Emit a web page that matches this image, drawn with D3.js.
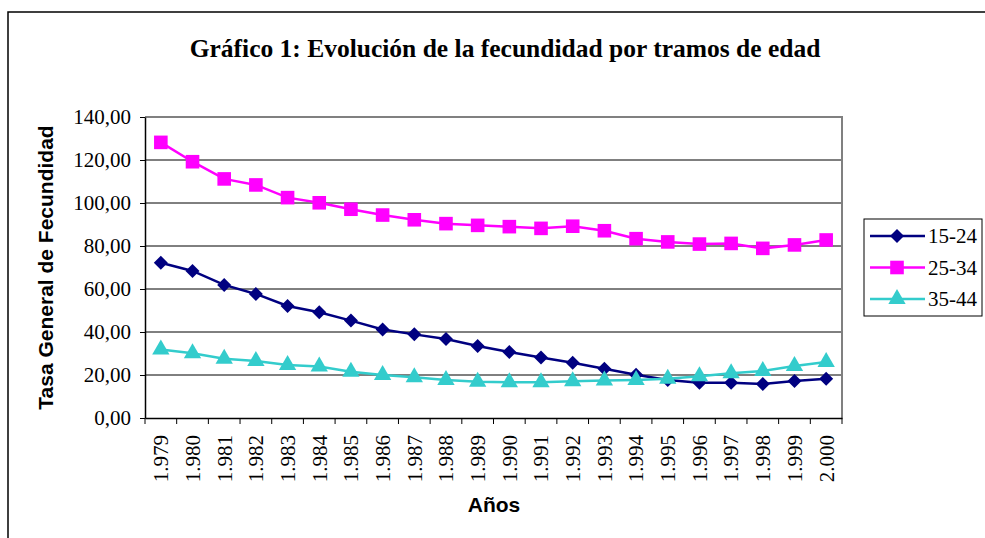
<!DOCTYPE html>
<html>
<head>
<meta charset="utf-8">
<script src="https://cdn.jsdelivr.net/npm/d3@7"></script>
<style>
  body { margin: 0; background: #fff; }
  svg { display: block; }
</style>
</head>
<body>
<svg id="chart" width="985" height="538"></svg>
<script>
const years = ["1.979", "1.980", "1.981", "1.982", "1.983", "1.984", "1.985", "1.986", "1.987", "1.988", "1.989",
  "1.990", "1.991", "1.992", "1.993", "1.994", "1.995", "1.996", "1.997", "1.998", "1.999", "2.000"];
const tramo1524 = [72.2, 68.4, 61.9, 57.7, 52.1, 49.2, 45.3, 41.2, 38.9, 36.7, 33.5,
  30.7, 28.1, 25.7, 22.9, 20.1, 17.7, 16.4, 16.4, 15.8, 17.2, 18.3];
const tramo2534 = [128.2, 119.2, 111.2, 108.4, 102.5, 100.1, 97.1, 94.4, 92.2, 90.4, 89.6,
  89.0, 88.2, 89.2, 87.1, 83.4, 81.9, 80.9, 81.2, 78.9, 80.5, 82.8];
const tramo3544 = [31.9, 30.1, 27.6, 26.5, 24.7, 23.9, 21.5, 20.0, 18.9, 17.7, 16.9,
  16.6, 16.6, 17.1, 17.4, 17.7, 18.3, 19.4, 20.8, 21.9, 24.2, 26.0];
const yTicks = [0, 20, 40, 60, 80, 100, 120, 140];

// rombo regular (tipo Excel), el de d3 es más estrecho
const squareDiamond = {
  draw(ctx, size) {
    const r = Math.sqrt(size / 2);
    ctx.moveTo(0, -r);
    ctx.lineTo(r, 0);
    ctx.lineTo(0, r);
    ctx.lineTo(-r, 0);
    ctx.closePath();
  }
};

const series = [
  { name: "15-24", values: tramo1524, color: "#000080", symbol: squareDiamond, size: 98 },
  { name: "25-34", values: tramo2534, color: "#FF00FF", symbol: d3.symbolSquare, size: 185 },
  { name: "35-44", values: tramo3544, color: "#33CCCC", symbol: d3.symbolTriangle, size: 130 }
];

const serif = "'Liberation Serif', 'Times New Roman', serif";
const sans = "'Liberation Sans', Arial, sans-serif";

const svg = d3.select("#chart");
const plot = { left: 145, top: 117, right: 842, bottom: 418 };

// marco exterior
svg.append("rect")
  .attr("x", 8).attr("y", 12).attr("width", 990).attr("height", 540)
  .attr("fill", "none").attr("stroke", "#000").attr("stroke-width", 1.5);

svg.append("text")
  .attr("x", 505).attr("y", 57)
  .attr("text-anchor", "middle")
  .style("font-family", serif)
  .style("font-weight", "bold")
  .style("font-size", "25.5px")
  .text("Gráfico 1: Evolución de la fecundidad por tramos de edad");

const x = d3.scaleBand().domain(years).range([plot.left, plot.right]);
const y = d3.scaleLinear().domain([0, 140]).range([plot.bottom, plot.top]);

// grid
svg.append("g").selectAll("line")
  .data(yTicks.filter(d => d > 0 && d < 140))
  .enter().append("line")
  .attr("x1", plot.left).attr("x2", plot.right)
  .attr("y1", d => y(d)).attr("y2", d => y(d))
  .attr("stroke", "#000").attr("stroke-width", 1);

// borde gris del área de trazado
svg.append("path")
  .attr("d", `M${plot.left},${plot.top}H${plot.right}V${plot.bottom}`)
  .attr("fill", "none").attr("stroke", "#808080").attr("stroke-width", 2);

// eje Y
const yAxis = svg.append("g")
  .attr("transform", `translate(${plot.left},0)`)
  .call(d3.axisLeft(y).tickValues(yTicks).tickSize(5).tickSizeOuter(0)
    .tickFormat(d => d3.format(".2f")(d).replace(".", ",")));
yAxis.select(".domain").attr("stroke", "#000").attr("stroke-width", 1.5);
yAxis.selectAll(".tick line").attr("stroke", "#000");
yAxis.selectAll(".tick text")
  .attr("x", -14)
  .style("font-family", serif)
  .style("font-size", "21px")
  .attr("fill", "#000");

// eje X
const xAxis = svg.append("g")
  .attr("transform", `translate(0,${plot.bottom})`)
  .call(d3.axisBottom(x).tickSize(0).tickSizeOuter(0));
xAxis.select(".domain").attr("stroke", "#000").attr("stroke-width", 1.5);
xAxis.selectAll(".tick text")
  .attr("transform", "rotate(-90)")
  .attr("x", -17).attr("y", 0).attr("dy", "0.35em")
  .attr("text-anchor", "end")
  .style("font-family", serif)
  .style("font-size", "21px")
  .attr("fill", "#000");
svg.append("g").selectAll("line")
  .data(years.concat(["end"]))
  .enter().append("line")
  .attr("x1", (d, i) => plot.left + i * x.step())
  .attr("x2", (d, i) => plot.left + i * x.step())
  .attr("y1", plot.bottom).attr("y2", plot.bottom + 6)
  .attr("stroke", "#000");

svg.append("text")
  .attr("transform", `translate(53,${(plot.top + plot.bottom) / 2}) rotate(-90)`)
  .attr("text-anchor", "middle")
  .style("font-family", sans)
  .style("font-weight", "bold")
  .style("font-size", "21px")
  .text("Tasa General de Fecundidad");

svg.append("text")
  .attr("x", 494).attr("y", 512)
  .attr("text-anchor", "middle")
  .style("font-family", sans)
  .style("font-weight", "bold")
  .style("font-size", "21px")
  .text("Años");

// series
const line = d3.line()
  .x((d, i) => x(years[i]) + x.bandwidth() / 2)
  .y(d => y(d));

series.forEach(s => {
  svg.append("path")
    .datum(s.values)
    .attr("d", line)
    .attr("fill", "none")
    .attr("stroke", s.color)
    .attr("stroke-width", 2.5);
  svg.append("g").selectAll("path")
    .data(s.values)
    .enter().append("path")
    .attr("d", d3.symbol().type(s.symbol).size(s.size))
    .attr("transform", (d, i) => `translate(${x(years[i]) + x.bandwidth() / 2},${y(d)})`)
    .attr("fill", s.color);
});

// leyenda
const legend = svg.append("g");
legend.append("rect")
  .attr("x", 864).attr("y", 219).attr("width", 118).attr("height", 97)
  .attr("fill", "#fff").attr("stroke", "#000").attr("stroke-width", 1);
series.forEach((s, i) => {
  const ly = 236 + i * 31.5;
  legend.append("line")
    .attr("x1", 870).attr("x2", 925).attr("y1", ly).attr("y2", ly)
    .attr("stroke", s.color).attr("stroke-width", 2.5);
  legend.append("path")
    .attr("d", d3.symbol().type(s.symbol).size(s.size))
    .attr("transform", `translate(897,${ly})`)
    .attr("fill", s.color);
  legend.append("text")
    .attr("x", 928).attr("y", ly).attr("dy", "0.35em")
    .style("font-family", serif)
    .style("font-size", "21px")
    .text(s.name);
});
</script>
</body>
</html>
